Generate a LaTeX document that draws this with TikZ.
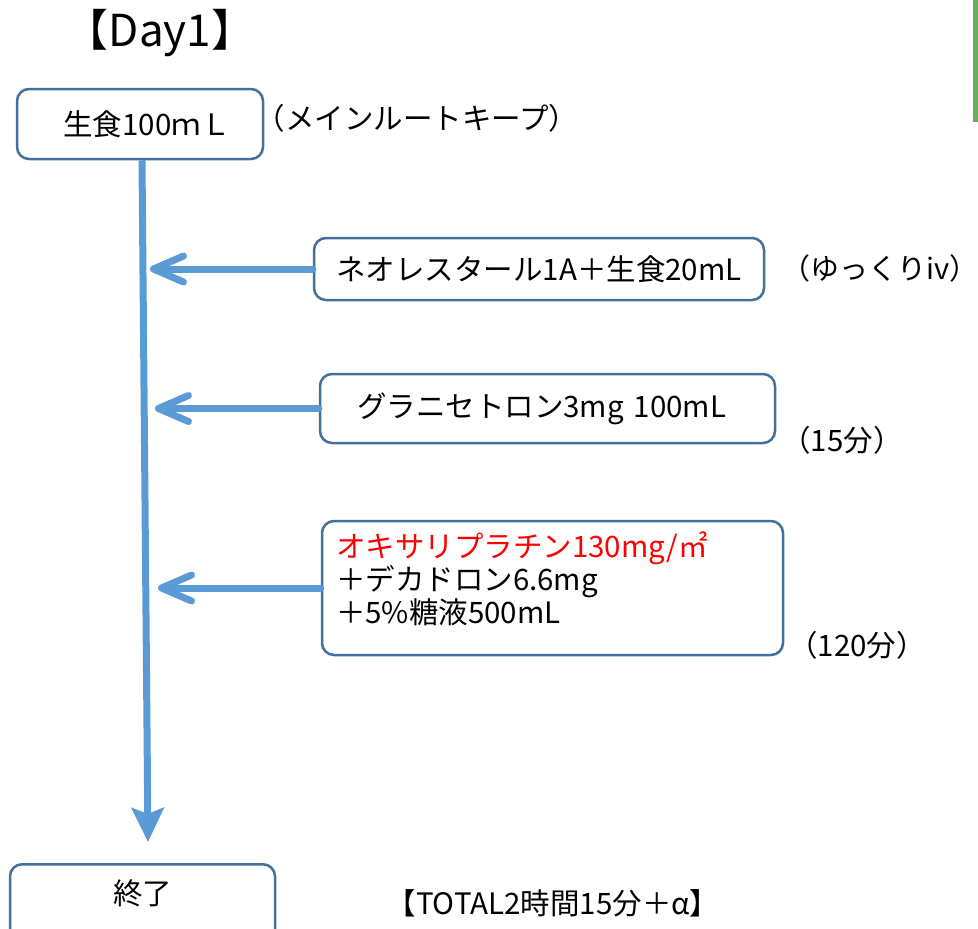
\documentclass[tikz,border=0pt]{standalone}
\usepackage{fontspec}
\setmainfont{Noto Sans CJK JP}
\usetikzlibrary{arrows.meta}
\definecolor{flowblue}{HTML}{5B9BD5}
\definecolor{boxedge}{HTML}{41719C}
\definecolor{stripgreen}{HTML}{6AAF5B}
\begin{document}
\begin{tikzpicture}[x=1pt,y=-1pt,
  box/.style={draw=boxedge, line width=2.5pt, rounded corners=12pt, fill=white, inner sep=0pt, font=\fontsize{29.5}{35}\selectfont},
  feed/.style={draw=flowblue, line width=7pt, line cap=round, -{Straight Barb[length=30pt,width=26pt,line cap=round,line join=round]}},
  mainline/.style={draw=flowblue, line width=7pt, -{Stealth[length=34pt,width=32pt,inset=6pt]}},
  note/.style={font=\fontsize{29.5}{34}\selectfont, inner sep=0pt}]
\useasboundingbox (0,0) rectangle (978,929);
\fill[stripgreen] (973,0) rectangle (978,122);

\node[font=\fontsize{44}{48}\selectfont, inner sep=0pt] (title) at (160,33) {【Day1】};

\node[box, minimum width=246pt, minimum height=70pt] (b1) at (140,124) {\hspace*{14pt}生食100ｍＬ};
\node[note] (n1) at (417,118) {（メインルートキープ）};

\node[box, minimum width=450pt, minimum height=62pt] (b2) at (539,269) {ネオレスタール1A＋生食20mL};
\node[note, anchor=east, font=\fontsize{29}{34}\selectfont] (n2) at (979,268) {（ゆっくりiv）};

\node[box, minimum width=455pt, minimum height=69pt, text width=381pt, align=left] (b3) at (547.5,408.5) {グラニセトロン3mg 100mL};
\node[note] (n3) at (842,440) {（15分）};

\node[box, minimum width=461pt, minimum height=134pt, text width=433pt, align=left] (b4) at (552.5,588) {{\color{red}オキサリプラチン130mg/㎡}\\[-2pt]＋デカドロン6.6mg\\[-2pt]＋5\%糖液500mL\\[-14pt]\mbox{}};
\node[note] (n4) at (857,645) {（120分）};

\node[box, anchor=north, minimum width=265pt, inner ysep=16pt, text height=24pt, text depth=60pt] (b5) at (142.5,863) {終了};
\node[note] (tot) at (553,903) {【TOTAL2時間15分＋α】};

\coordinate (mx) at (142,0);
\coordinate (endtip) at (148,842);
\coordinate (t2) at (150,0);
\coordinate (t3) at (155,0);
\coordinate (t4) at (158,0);
\draw[mainline] (b1.south -| mx) -- (endtip);
\draw[feed] (b2.west) -- (b2.west -| t2);
\draw[feed] (b3.west) -- (b3.west -| t3);
\draw[feed] (b4.west) -- (b4.west -| t4);
\end{tikzpicture}
\end{document}
